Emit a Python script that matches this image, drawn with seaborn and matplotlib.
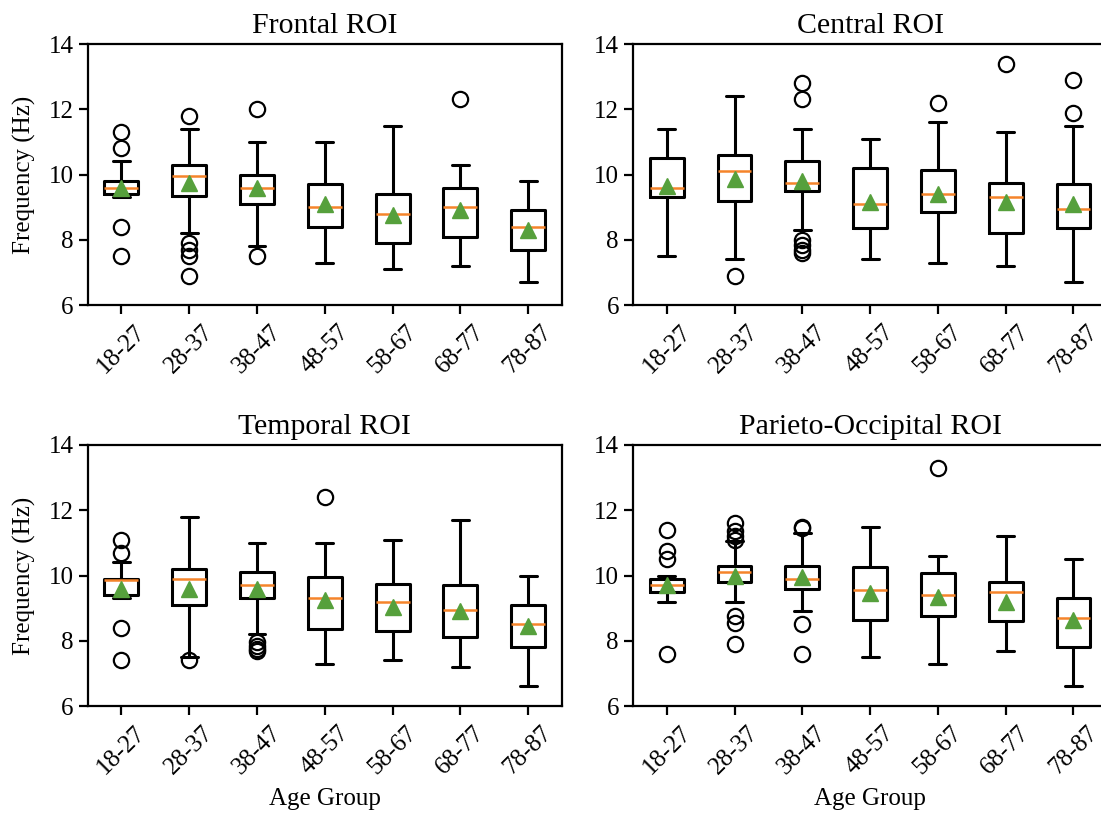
import numpy as np
import seaborn as sns
import matplotlib
matplotlib.use("Agg")
import matplotlib.pyplot as plt

# age groups and ROI names
age_groups = ["18-27", "28-37", "38-47", "48-57", "58-67", "68-77", "78-87"]
rois = ["Frontal ROI", "Central ROI", "Temporal ROI", "Parieto-Occipital ROI"]

# box statistics, one row per ROI, one column per age group
whisker_high = [
    [10.4, 11.4, 11.0, 11.0, 11.5, 10.3, 9.8],
    [11.4, 12.4, 11.4, 11.1, 11.6, 11.3, 11.5],
    [10.4, 11.8, 11.0, 11.0, 11.1, 11.7, 10.0],
    [10.0, 11.05, 11.3, 11.5, 10.6, 11.2, 10.5],
]
q3 = [
    [9.8, 10.3, 10.0, 9.7, 9.4, 9.6, 8.9],
    [10.5, 10.6, 10.4, 10.2, 10.15, 9.75, 9.7],
    [9.9, 10.2, 10.1, 9.95, 9.75, 9.7, 9.1],
    [9.9, 10.3, 10.3, 10.25, 10.08, 9.8, 9.3],
]
medians = [
    [9.6, 9.95, 9.6, 9.0, 8.8, 9.0, 8.4],
    [9.6, 10.1, 9.75, 9.1, 9.4, 9.3, 8.95],
    [9.85, 9.9, 9.7, 9.3, 9.2, 8.95, 8.5],
    [9.7, 10.1, 9.9, 9.55, 9.4, 9.5, 8.7],
]
q1 = [
    [9.4, 9.35, 9.1, 8.4, 7.9, 8.1, 7.7],
    [9.3, 9.2, 9.5, 8.35, 8.85, 8.2, 8.35],
    [9.4, 9.1, 9.3, 8.35, 8.3, 8.1, 7.8],
    [9.5, 9.8, 9.6, 8.65, 8.75, 8.6, 7.8],
]
whisker_low = [
    [9.3, 8.2, 7.8, 7.3, 7.1, 7.2, 6.7],
    [7.5, 7.4, 8.3, 7.4, 7.3, 7.2, 6.7],
    [9.3, 7.5, 8.2, 7.3, 7.4, 7.2, 6.6],
    [9.2, 9.2, 8.9, 7.5, 7.3, 7.7, 6.6],
]
means = [
    [9.6, 9.75, 9.6, 9.1, 8.75, 8.9, 8.3],
    [9.65, 9.85, 9.8, 9.15, 9.4, 9.15, 9.1],
    [9.6, 9.6, 9.6, 9.25, 9.05, 8.9, 8.45],
    [9.7, 10.0, 9.95, 9.45, 9.35, 9.2, 8.65],
]
fliers = [
    [[11.3, 10.8, 8.4, 7.5], [11.8, 7.9, 7.7, 7.5, 6.9], [12.0, 7.5], [], [], [12.3], []],
    [[], [6.9], [12.8, 12.3, 8.0, 7.85, 7.7, 7.6], [], [12.2], [13.4], [12.9, 11.9]],
    [[11.1, 10.7, 8.4, 7.4], [7.4], [7.95, 7.85, 7.75, 7.7], [12.4], [], [], []],
    [[11.4, 10.75, 10.5, 7.6], [11.6, 11.35, 11.2, 11.1, 8.75, 8.55, 7.9],
     [11.5, 11.45, 8.5, 7.6], [], [13.3], [], []],
]

sns.set_style("ticks", {"axes.edgecolor": "black", "xtick.color": "black",
                        "ytick.color": "black", "text.color": "black",
                        "axes.labelcolor": "black"})
plt.rcParams["font.family"] = "serif"
plt.rcParams["font.serif"] = ["Liberation Serif", "DejaVu Serif"]
plt.rcParams["font.size"] = 18
plt.rcParams["axes.linewidth"] = 1.6
plt.rcParams["xtick.major.width"] = 1.6
plt.rcParams["ytick.major.width"] = 1.6
plt.rcParams["xtick.major.size"] = 6.5
plt.rcParams["ytick.major.size"] = 6.5

fig = plt.figure(figsize=(11.01, 8.18), dpi=100)
lefts = [0.0795, 0.5748]
bottoms = [0.6271, 0.1369]
w, h = 0.431, 0.3191

for k, roi in enumerate(rois):
    row, col = divmod(k, 2)
    ax = fig.add_axes([lefts[col], bottoms[row], w, h])
    stats = []
    for j, grp in enumerate(age_groups):
        stats.append({
            "label": grp,
            "whislo": whisker_low[k][j], "q1": q1[k][j], "med": medians[k][j],
            "q3": q3[k][j], "whishi": whisker_high[k][j], "mean": means[k][j],
            "fliers": np.array(fliers[k][j]),
        })
    ax.bxp(stats, showmeans=True,
           boxprops=dict(color="black", linewidth=2.2),
           whiskerprops=dict(color="black", linewidth=2.2),
           capprops=dict(color="black", linewidth=2.2),
           medianprops=dict(color="#f5842a", linewidth=1.8),
           meanprops=dict(marker="^", markerfacecolor="#56a03c",
                          markeredgecolor="#56a03c", markersize=12),
           flierprops=dict(marker="o", markerfacecolor="none",
                           markeredgecolor="black", markersize=11,
                           markeredgewidth=1.6))
    ax.set_ylim(6, 14)
    ax.set_yticks([6, 8, 10, 12, 14])
    ax.tick_params(axis="x", rotation=45, pad=5)
    ax.set_title(roi, fontsize=21.5, pad=8)
    if col == 0:
        ax.set_ylabel("Frequency (Hz)", labelpad=9)
    if row == 1:
        ax.set_xlabel("Age Group", labelpad=7)

fig.savefig("out.png", dpi=100)
